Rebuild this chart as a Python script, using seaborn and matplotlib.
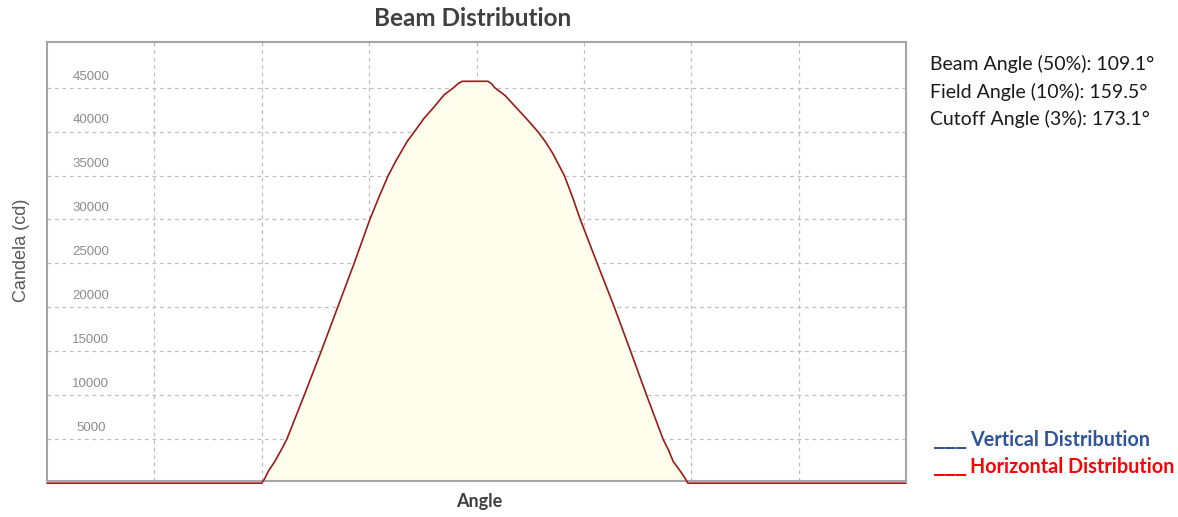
import numpy as np
import pandas as pd
import seaborn as sns
import matplotlib.pyplot as plt
import matplotlib.transforms as mtransforms

sns.set_style('white')
plt.rcParams['font.family'] = ['Lato', 'DejaVu Sans']

# 读取自图片的光强分布
angle = [-180, -90, -88.6, -87.3, -84.5, -82.0, -79.5, -72.2, -65.1, -58.2, -51.3, -44.7,
         -40.8, -37.0, -33.5, -29.0, -26.0, -22.0, -18.1, -13.5, -9.6, -7.5, -6.0, 0,
         4.8, 6.3, 7.6, 12.0, 17.4, 21.5, 25.7, 29.0, 32.0, 36.8, 40.3, 43.5,
         50.6, 57.8, 64.6, 71.3, 78.2, 80.6, 82.4, 85.5, 87.3, 88.6, 180]
candela = [0, 0, 600, 1340, 2490, 3700, 5000, 10000, 15000, 20000, 25000, 30000,
           32600, 35000, 36800, 38900, 40000, 41500, 42700, 44200, 45000, 45500, 45720, 45720,
           45720, 45450, 45000, 44100, 42500, 41300, 40000, 38800, 37500, 35000, 32500, 30000,
           25000, 20000, 15000, 10000, 5000, 3700, 2490, 1340, 600, 0, 0]
y_ticks = [5000, 10000, 15000, 20000, 25000, 30000, 35000, 40000, 45000]
x_grid = [-135, -90, -45, 0, 45, 90, 135]
info_lines = ['Beam Angle (50%): 109.1°', 'Field Angle (10%): 159.5°', 'Cutoff Angle (3%): 173.1°']
legend_names = ['Vertical Distribution', 'Horizontal Distribution']
legend_colors = ['#2F5597', '#FF0000']

df = pd.DataFrame({'angle': angle, 'candela': candela})

W, H = 1178, 517
fig = plt.figure(figsize=(W / 100, H / 100), dpi=100)
ax = fig.add_axes([47 / W, 1 - 481 / H, (906 - 47) / W, (481 - 42) / H])

ax.fill_between(df['angle'], df['candela'], color='#FFFDEB', zorder=1)
sns.lineplot(data=df, x='angle', y='candela', ax=ax, color='#9B1C1C', linewidth=1.2,
             zorder=3, clip_on=False)

ax.set_xlim(-180, 180)
ax.set_ylim(250, 50190)
ax.set_xticks(x_grid)
ax.set_yticks(y_ticks)
ax.set_xticklabels([])
ax.set_yticklabels([])
ax.tick_params(length=0)
ax.grid(True, linestyle=(0, (3, 3)), color='#BFBFBF', linewidth=0.9)
ax.set_axisbelow(True)
for s in ax.spines.values():
    s.set_color('#A6A6A6')
    s.set_linewidth(1.5)
ax.set_xlabel('')
ax.set_ylabel('')

# y轴刻度写在图内
trans = mtransforms.blended_transform_factory(ax.transAxes, ax.transData)
for v in y_ticks:
    ax.annotate(str(v), xy=(0.051, v), xycoords=trans, xytext=(0, 8), textcoords='offset points',
                ha='center', va='center', fontsize=9.5, color='#8C8C8C', family='Liberation Sans')

fig.text(473 / W, 1 - 18 / H, 'Beam Distribution', ha='center', va='center',
         fontsize=17.5, fontweight='bold', color='#404040')
fig.text(479 / W, 1 - 502 / H, 'Angle', ha='center', va='center',
         fontsize=13, fontweight='bold', color='#404040')
fig.text(21 / W, 1 - 250 / H, 'Candela (cd)', ha='center', va='center', rotation=90,
         fontsize=13, color='#595959', family='Liberation Sans')

for i, t in enumerate(info_lines):
    fig.text(930 / W, 1 - (64 + 27.5 * i) / H, t, ha='left', va='center', fontsize=14, color='#1A1A1A')

for i, (t, c) in enumerate(zip(legend_names, legend_colors)):
    yc = 1 - (440 + 27 * i) / H
    fig.text(934 / W, 1 - (444 + 27 * i) / H, '___', ha='left', va='baseline', fontsize=15.5,
             fontweight='bold', color=c, family='DejaVu Sans')
    fig.text(970 / W, yc, t, ha='left', va='center', fontsize=14.2,
             fontweight='bold', color=c)

fig.savefig('out.png', dpi=100)
